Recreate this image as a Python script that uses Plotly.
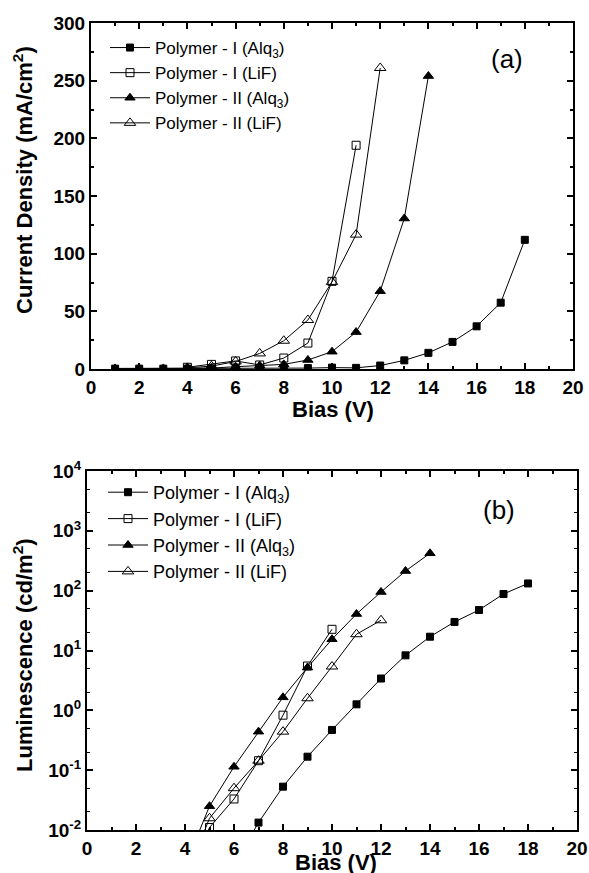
import plotly.graph_objects as go

# ---------- data: (a) current density ----------
pI_alq_x = list(range(1, 19))
pI_alq_j = [0.3, 0.3, 0.3, 0.3, 0.3, 0.4, 0.5, 0.6, 0.8, 1.2, 1.0, 3, 7.5, 14, 23.5, 37, 57.5, 112]
pI_lif_x = list(range(4, 12))
pI_lif_j = [1.5, 4, 7, 3.5, 9.5, 22.5, 76, 194]
pII_alq_x = list(range(1, 15))
pII_alq_j = [0.5, 0.5, 0.5, 0.5, 0.8, 2, 3, 4, 7.8, 15, 32, 67.5, 130.5, 254]
pII_lif_x = list(range(4, 13))
pII_lif_j = [1, 2.5, 6.5, 13.5, 24.5, 42.5, 75.5, 116.5, 261]

# ---------- data: (b) luminescence ----------
pI_alq_lx = list(range(6, 19))
pI_alq_l = [0.0026, 0.0133, 0.053, 0.168, 0.47, 1.26, 3.4, 8.3, 17, 30, 47.5, 88, 132]
pI_lif_lx = list(range(4, 11))
pI_lif_l = [0.0012, 0.011, 0.033, 0.144, 0.83, 5.5, 22.6]
pII_alq_lx = list(range(4, 15))
pII_alq_l = [0.0025, 0.025, 0.114, 0.44, 1.65, 5.2, 15.4, 40.7, 95, 213, 421]
pII_lif_lx = list(range(4, 13))
pII_lif_l = [0.0015, 0.0157, 0.05, 0.144, 0.44, 1.59, 5.4, 18.7, 32]

# ---------- tick labels ----------
x_ticks = list(range(0, 21, 2))
j_ticks = list(range(0, 301, 50))
l_ticks = [1e-2, 1e-1, 1, 10, 100, 1000, 1e4]
l_ticktext = ["10<sup>-2</sup>", "10<sup>-1</sup>", "10<sup>0</sup>", "10<sup>1</sup>",
              "10<sup>2</sup>", "10<sup>3</sup>", "10<sup>4</sup>"]

names = ["Polymer - I (Alq<sub>3</sub>)", "Polymer - I (LiF)",
         "Polymer - II (Alq<sub>3</sub>)", "Polymer - II (LiF)"]
symbols = ["square", "square-open", "triangle-up", "triangle-up-open"]
sizes = [7, 8, 9, 10]

top_x = [pI_alq_x, pI_lif_x, pII_alq_x, pII_lif_x]
top_y = [pI_alq_j, pI_lif_j, pII_alq_j, pII_lif_j]
bot_x = [pI_alq_lx, pI_lif_lx, pII_alq_lx, pII_lif_lx]
bot_y = [pI_alq_l, pI_lif_l, pII_alq_l, pII_lif_l]

FONT = "Liberation Sans, Arial, sans-serif"

fig = go.Figure()
for i in range(4):
    fig.add_trace(go.Scatter(
        x=top_x[i], y=top_y[i], mode="lines+markers", name=names[i],
        line=dict(color="black", width=1),
        marker=dict(symbol=symbols[i], size=sizes[i], color="black",
                    line=dict(color="black", width=1)),
        xaxis="x", yaxis="y", legend="legend", cliponaxis=True))
for i in range(4):
    fig.add_trace(go.Scatter(
        x=bot_x[i], y=bot_y[i], mode="lines+markers", name=names[i],
        line=dict(color="black", width=1),
        marker=dict(symbol=symbols[i], size=sizes[i], color="black",
                    line=dict(color="black", width=1)),
        xaxis="x2", yaxis="y2", legend="legend2", legendgroup="g%d" % i, cliponaxis=True))

W, H = 589, 873
tickfont = dict(family=FONT, size=19, color="black", weight="bold")
titlefont = dict(family=FONT, size=22, color="black", weight="bold")


def bold(labels):
    return ["<b>%s</b>" % t for t in labels]


common_x = dict(range=[0, 20], tickmode="array", tickvals=x_ticks,
                ticktext=bold([str(v) for v in x_ticks]),
                ticks="inside", ticklen=6, tickwidth=2, tickcolor="black",
                minor=dict(ticks="inside", ticklen=3, tickwidth=1.5, dtick=1, tickcolor="black"),
                showline=True, linewidth=2, linecolor="black", mirror="ticks",
                showgrid=False, zeroline=False, tickfont=tickfont, automargin=False)

fig.update_layout(
    width=W, height=H, margin=dict(l=0, r=0, t=0, b=0),
    paper_bgcolor="white", plot_bgcolor="white",
    xaxis=dict(common_x, domain=[91 / W, 573 / W], anchor="y"),
    yaxis=dict(domain=[1 - 369 / H, 1 - 23 / H], anchor="x", range=[0, 300],
               tickmode="array", tickvals=j_ticks, ticktext=bold([str(v) for v in j_ticks]),
               ticks="inside", ticklen=6, tickwidth=2, tickcolor="black",
               minor=dict(ticks="inside", ticklen=3, tickwidth=1.5, dtick=25, tickcolor="black"),
               showline=True, linewidth=2, linecolor="black", mirror="ticks",
               showgrid=False, zeroline=False, tickfont=tickfont, automargin=False),
    xaxis2=dict(common_x, domain=[87 / W, 577 / W], anchor="y2"),
    yaxis2=dict(domain=[1 - 830 / H, 1 - 471 / H], anchor="x2", type="log", range=[-2, 4],
                tickmode="array", tickvals=l_ticks, ticktext=bold(l_ticktext),
                ticks="inside", ticklen=6, tickwidth=2, tickcolor="black",
                minor=dict(ticks="inside", ticklen=3, tickwidth=1, tickcolor="black"),
                showline=True, linewidth=2, linecolor="black", mirror="ticks",
                showgrid=False, zeroline=False,
                tickfont=tickfont, automargin=False),
    legend=dict(x=105 / W, y=1 - 30 / H, xanchor="left", yanchor="top",
                bgcolor="rgba(0,0,0,0)", font=dict(family=FONT, size=17, color="black"),
                tracegroupgap=0, itemwidth=40),
    legend2=dict(x=103 / W, y=1 - 474 / H, xanchor="left", yanchor="top",
                 bgcolor="rgba(0,0,0,0)", font=dict(family=FONT, size=18, color="black"),
                 tracegroupgap=0, itemwidth=40),
    annotations=[
        dict(text="(a)", x=525 / W, y=1 - 42 / H, xref="paper", yref="paper",
             showarrow=False, font=dict(family=FONT, size=26, color="black")),
        dict(text="(b)", x=517 / W, y=1 - 510 / H, xref="paper", yref="paper",
             showarrow=False, font=dict(family=FONT, size=26, color="black")),
        dict(text="Current Density (mA/cm<sup>2</sup>)", textangle=-90,
             x=23 / W, y=1 - 180 / H, xref="paper", yref="paper",
             xanchor="center", yanchor="middle", showarrow=False, font=titlefont),
        dict(text="Luminescence (cd/m<sup>2</sup>)", textangle=-90,
             x=23 / W, y=1 - 655 / H, xref="paper", yref="paper",
             xanchor="center", yanchor="middle", showarrow=False, font=titlefont),
        dict(text="Bias (V)", x=333 / W, y=1 - 409 / H, xref="paper", yref="paper",
             xanchor="center", yanchor="middle", showarrow=False, font=titlefont),
        dict(text="Bias (V)", x=336 / W, y=1 - 862 / H, xref="paper", yref="paper",
             xanchor="center", yanchor="middle", showarrow=False, font=titlefont),
    ],
)

fig.write_html("out.html")
